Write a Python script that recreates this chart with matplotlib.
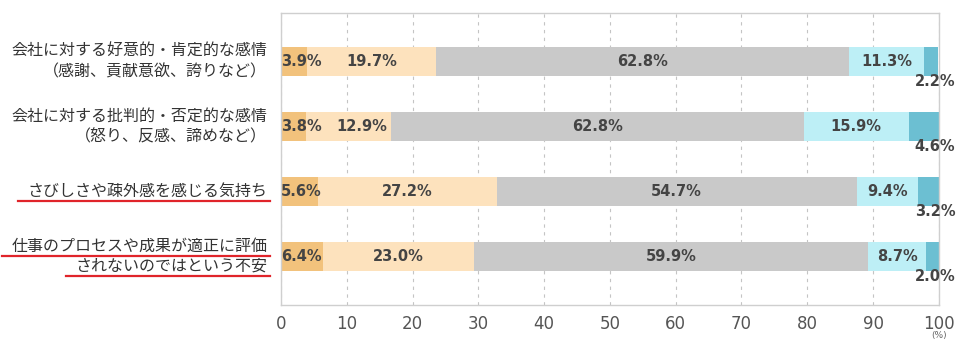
import matplotlib
matplotlib.use("Agg")
import matplotlib.pyplot as plt
from matplotlib.lines import Line2D
import numpy as np

plt.rcParams['font.family'] = ['Noto Sans CJK JP', 'DejaVu Sans']

# rows top -> bottom, each label split into display lines
categories = [
    ["会社に対する好意的・肯定的な感情", "（感謝、貢献意欲、誇りなど）"],
    ["会社に対する批判的・否定的な感情", "（怒り、反感、諦めなど）"],
    ["さびしさや疎外感を感じる気持ち"],
    ["仕事のプロセスや成果が適正に評価", "されないのではという不安"],
]
underlined = [False, False, True, True]

seg1 = [3.9, 3.8, 5.6, 6.4]
seg2 = [19.7, 12.9, 27.2, 23.0]
seg3 = [62.8, 62.8, 54.7, 59.9]
seg4 = [11.3, 15.9, 9.4, 8.7]
seg5 = [2.2, 4.6, 3.2, 2.0]

colors = ["#f2c27c", "#fde2bd", "#c9c9c9", "#bdeff6", "#6cbfd2"]
xticks = [0, 10, 20, 30, 40, 50, 60, 70, 80, 90, 100]

fig = plt.figure(figsize=(9.56, 3.41), dpi=100)
ax = fig.add_axes([0.294, 0.106, 0.688, 0.856])

y = np.arange(len(categories))
series = [seg1, seg2, seg3, seg4, seg5]
left = np.zeros(len(categories))
for vals, c in zip(series, colors):
    ax.barh(y, vals, left=left, height=0.45, color=c, edgecolor="none", zorder=2)
    left += np.array(vals)

num_font = "DejaVu Sans"
txt = dict(fontsize=10.5, color="#444444", fontweight="bold", va="center",
           zorder=3, family=num_font)
for i in range(len(categories)):
    a, b, c, d, e = seg1[i], seg2[i], seg3[i], seg4[i], seg5[i]
    ax.text(0.0, i, f"{a:.1f}%", ha="left", **txt)
    ax.text(max(a + b / 2, a + 8.5), i, f"{b:.1f}%", ha="center", **txt)
    ax.text(a + b + c / 2, i, f"{c:.1f}%", ha="center", **txt)
    ax.text(a + b + c + d / 2, i, f"{d:.1f}%", ha="center", **txt)
    ax.annotate(f"{e:.1f}%", xy=(100, i + 0.31), xytext=(12, 0),
                textcoords="offset points", ha="right", va="center",
                fontsize=10.5, color="#444444", fontweight="bold",
                family=num_font, annotation_clip=False)

ax.set_xlim(0, 100)
ax.set_ylim(len(categories) - 1 + 0.75, -0.75)
ax.set_yticks([])
ax.set_xticks(xticks)
ax.set_xticklabels([str(t) for t in xticks], fontsize=12, color="#555555",
                   family=num_font)
ax.tick_params(axis="x", length=0, pad=7)
ax.grid(axis="x", linestyle=(0, (3, 4)), color="#c4c4c4", linewidth=0.8, zorder=0)
for s in ax.spines.values():
    s.set_color("#cfcfcf")
    s.set_linewidth(1)

ax.annotate("(%)", xy=(100, len(categories) - 1 + 0.75), xytext=(0, -22),
            textcoords="offset points", ha="center", va="center",
            fontsize=6.5, color="#666666", family=num_font, annotation_clip=False)

# category labels, one text per line so each can be underlined
label_texts = []
for i, lines in enumerate(categories):
    n = len(lines)
    for k, line in enumerate(lines):
        off = (k - (n - 1) / 2) * 0.31
        t = ax.text(-0.021, i + off, line, transform=ax.get_yaxis_transform(),
                    ha="right", va="center", fontsize=11.5, color="#333333")
        label_texts.append((t, underlined[i]))

fig.canvas.draw()
r = fig.canvas.get_renderer()
W, H = fig.bbox.width, fig.bbox.height
for t, ul in label_texts:
    if not ul:
        continue
    bb = t.get_window_extent(renderer=r)
    yy = bb.y0 - 1
    fig.add_artist(Line2D([(bb.x0 - 9) / W, (bb.x1 + 3) / W], [yy / H, yy / H],
                          transform=fig.transFigure, color="#e0242a", linewidth=1.6))

fig.savefig("out.png", dpi=100)
